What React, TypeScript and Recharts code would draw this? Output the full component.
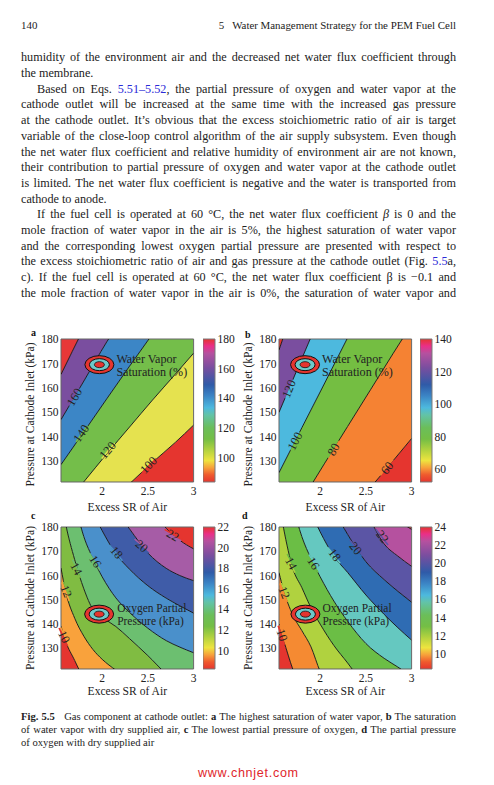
import {
  Area,
  Bar,
  BarChart,
  CartesianGrid,
  ComposedChart,
  Line,
  ReferenceArea,
  ReferenceDot,
  XAxis,
  YAxis,
} from "recharts";

const SERIF = "'Liberation Serif', serif";
const INK = "#222";

// x grid of the two saturation plots
const xsSat = [1.55, 1.8, 2.05, 2.3, 2.55, 2.8, 3];
// x grid of the two oxygen plots
const xsOxy = [1.55, 1.6, 1.7, 1.8, 1.9, 2, 2.15, 2.3, 2.5, 2.7, 2.85, 3];

// contour lines, pressure (kPa) read at each x; values outside the frame get clipped
const a100 = [95, 103.5, 112.2, 120.8, 129.5, 137.7, 144.8];
const a120 = [110.5, 121.6, 133, 144, 155, 165.6, 174.2];
const a140 = [128.6, 142, 155.5, 168.9, 182, 195, 205];
const a160 = [147, 162.8, 178.8, 193, 207, 220, 230];
const a180 = [165.5, 184.5, 203, 220, 236, 250, 262];

const b60 = [74, 85, 96.5, 108, 119.2, 130.3, 139.3];
const b80 = [99, 114, 129.2, 144.2, 159.2, 174.2, 186];
const b100 = [125.3, 143.7, 162, 180.5, 199, 217, 232];
const b120 = [150, 172, 194, 216, 238, 260, 277];
const b140 = [175.5, 203, 231, 259, 287, 315, 337];

const c10 = [139.1, 133, 125, 117, 109, 102, 95, 90, 85, 80, 78, 75];
const c12 = [163.1, 153.5, 142.4, 135, 129.5, 125.5, 121, 117, 112, 108, 105, 102];
const c14 = [192, 181.5, 166.5, 154.5, 146, 142.8, 139, 134, 127, 119.5, 115, 110];
const c16 = [215, 205, 190, 176, 167, 159.5, 150.8, 144.8, 138.3, 133.2, 130.5, 128.2];
const c18 = [225, 218, 205, 195, 186, 178.5, 169, 162.6, 155.8, 150.7, 147.5, 144.5];
const c20 = [240, 235, 225, 215, 205, 197, 187, 179.2, 169.3, 163, 160, 157.9];
const c22 = [260, 255, 245, 235, 225, 218, 208, 199, 190, 179.5, 174.5, 171];

const d10 = [140, 133.5, 121.5, 112, 104, 98, 92, 87, 82, 77, 73, 70];
const d12 = [161.2, 154, 143.8, 137.3, 130.6, 120.5, 112, 105, 98, 92, 88, 85];
const d14 = [190, 179.5, 163, 155, 146.7, 140, 131.2, 124, 114, 105, 99, 93];
const d16 = [212, 203, 189, 176, 167, 159.5, 149.5, 141.2, 132, 125.9, 122.3, 118.5];
const d18 = [225, 218, 205, 195, 186, 178, 168, 161.3, 152, 144, 138.5, 133.4];
const d20 = [245, 240, 230, 218, 207, 198, 187, 177, 165.7, 158.3, 153.5, 149];
const d22 = [270, 265, 255, 245, 235, 225, 215, 205, 187, 173, 168, 163.8];
const d24 = [290, 285, 275, 265, 255, 245, 235, 225, 212, 195, 184, 179];

const bandsA = ["#E5352F", "#E5E24F", "#74BE4A", "#3C86C6", "#7A4E9F", "#E73838"];
const bandsB = ["#E5352F", "#F58233", "#74BE42", "#4DB9DE", "#7A4E9F", "#E5352F"];
const bandsC = ["#E5352F", "#F9A23C", "#80BC42", "#6CBF70", "#4A90CB", "#3F5CA8", "#A65CA6", "#E5352F"];
const bandsD = ["#E5352F", "#F58A32", "#B0D23F", "#6BBE45", "#65C8C0", "#2F6CB3", "#5B55A5", "#B5519F", "#E5352F"];

// label positions along the contours: [SR, kPa, text, angle]
const labelsA: [number, number, string, number][] = [
  [2.507, 128.4, "100", -45],
  [2.06, 134.5, "120", -50],
  [1.77, 141.4, "140", -55],
  [1.697, 156.2, "160", -60],
];
const labelsB: [number, number, string, number][] = [
  [2.733, 127.2, "60", -52],
  [2.147, 134.8, "80", -60],
  [1.725, 138.2, "100", -62],
  [1.659, 159.6, "120", -68],
];
const labelsC: [number, number, string, number][] = [
  [1.583, 134.8, "10", 65],
  [1.608, 153.5, "12", 68],
  [1.718, 162.8, "14", 62],
  [1.927, 165.8, "16", 58],
  [2.158, 169.5, "18", 50],
  [2.432, 172.1, "20", 40],
  [2.773, 176.6, "22", 30],
];
const labelsD: [number, number, string, number][] = [
  [1.583, 135.5, "10", 72],
  [1.608, 153, "12", 68],
  [1.682, 165, "14", 62],
  [1.927, 165, "16", 58],
  [2.158, 168.5, "18", 52],
  [2.388, 171.2, "20", 50],
  [2.682, 176, "22", 52],
];

const yTicks = [130, 140, 150, 160, 170, 180];
const xTicks = [2, 2.5, 3];
const hairlines = [1.6, 1.7, 1.8, 1.9, 2.05, 2.15, 2.3, 2.4, 2.55, 2.65, 2.75, 2.85, 2.95];

const cbTicksA = [100, 120, 140, 160, 180];
const cbTicksB = [60, 80, 100, 120, 140];
const cbTicksC = [10, 12, 14, 16, 18, 20, 22];
const cbTicksD = [10, 12, 14, 16, 18, 20, 22, 24];

const colorStops: [number, string][] = [
  [0, "#E5352F"],
  [0.05, "#EF5A2E"],
  [0.1, "#F7A13A"],
  [0.15, "#EEE43F"],
  [0.22, "#B5D33F"],
  [0.3, "#74BE45"],
  [0.38, "#6BBE5A"],
  [0.47, "#62C3A8"],
  [0.52, "#4DB9DE"],
  [0.6, "#3C86C6"],
  [0.68, "#2F5BA8"],
  [0.8, "#7A4E9F"],
  [0.9, "#B5519F"],
  [0.95, "#EA2F88"],
  [1, "#E5352F"],
];

function buildTable(xs: number[], contours: number[][]) {
  return xs.map((x, i) => {
    const row: Record<string, any> = { x };
    contours.forEach((c, k) => {
      row[`c${k}`] = c[i];
    });
    for (let k = 0; k <= contours.length; k++) {
      const lo = k === 0 ? 40 : contours[k - 1][i];
      const hi = k === contours.length ? 400 : contours[k][i];
      row[`b${k}`] = [lo, hi];
    }
    return row;
  });
}

function RingNote({ cx, cy, lines, noteDx, noteSize }: any) {
  return (
    <g>
      <ellipse cx={cx} cy={cy} rx={14.5} ry={9} fill="#E5352F" stroke="#111" strokeWidth={1} />
      <ellipse cx={cx} cy={cy} rx={10} ry={6} fill="#6CC9C9" stroke="#111" strokeWidth={1} />
      <ellipse cx={cx} cy={cy} rx={5} ry={3} fill="#E5352F" stroke="#111" strokeWidth={0.8} />
      <text x={cx + noteDx} y={cy - 2} fontFamily={SERIF} fontSize={noteSize} fill={INK}>
        {lines[0]}
      </text>
      <text x={cx + noteDx} y={cy + 11} fontFamily={SERIF} fontSize={noteSize} fill={INK}>
        {lines[1]}
      </text>
    </g>
  );
}

function ContourLabel({ cx, cy, text, angle, below, above }: any) {
  return (
    <g transform={`translate(${cx},${cy}) rotate(${angle})`}>
      <rect x={-10} y={-1.6} width={20} height={1.6} fill={above} />
      <rect x={-10} y={0} width={20} height={1.6} fill={below} />
      <text textAnchor="middle" dominantBaseline="central" fontFamily={SERIF} fontSize={12.2} fill={INK}>
        {text}
      </text>
    </g>
  );
}

const PLOT_W = 132.6;

function ContourPanel({ left, top, height, xs, contours, bands, labels, ring, note, noteDx, noteSize, titleDy, xLabelGap }: any) {
  const table = buildTable(xs, contours);
  return (
    <div style={{ position: "absolute", left: left - 40, top: top - 8 }}>
      <ComposedChart
        width={40 + PLOT_W + 6}
        height={8 + height + 38}
        data={table}
        margin={{ top: 8, right: 6, left: 0, bottom: 6 }}
      >
        <XAxis
          dataKey="x"
          type="number"
          domain={[1.55, 3]}
          ticks={xTicks}
          allowDataOverflow
          height={32}
          tickLine={false}
          tickSize={0}
          axisLine={false}
          tickMargin={5}
          tick={{ fontFamily: SERIF, fontSize: 11.5, fill: INK }}
          label={{
            value: "Excess SR of Air",
            position: "insideBottom",
            offset: xLabelGap,
            style: { fontFamily: SERIF, fontSize: 11.6, fill: INK },
          }}
        />
        <YAxis
          type="number"
          domain={[121.5, 180]}
          ticks={yTicks}
          allowDataOverflow
          width={40}
          tickLine={false}
          tickSize={0}
          axisLine={false}
          tickMargin={2.5}
          tick={{ fontFamily: SERIF, fontSize: 11.5, fill: INK }}
          label={{
            value: "Pressure at Cathode Inlet (kPa)",
            angle: -90,
            position: "insideLeft",
            offset: 9,
            dy: titleDy,
            textAnchor: "middle",
            style: { fontFamily: SERIF, fontSize: 11.6, fill: INK, textAnchor: "middle" },
          }}
        />
        {bands.map((color: string, k: number) => (
          <Area
            key={k}
            dataKey={`b${k}`}
            type="monotone"
            fill={color}
            fillOpacity={1}
            stroke="none"
            dot={false}
            activeDot={false}
            isAnimationActive={false}
          />
        ))}
        <CartesianGrid
          horizontal={false}
          verticalValues={hairlines}
          stroke="#fff"
          strokeOpacity={0.2}
          strokeWidth={0.8}
        />
        {contours.map((_: number[], k: number) => (
          <Line
            key={k}
            dataKey={`c${k}`}
            type="monotone"
            stroke="#111"
            strokeWidth={0.9}
            dot={false}
            activeDot={false}
            isAnimationActive={false}
          />
        ))}
        {labels.map((l: [number, number, string, number], k: number) => (
          <ReferenceDot
            key={k}
            x={l[0]}
            y={l[1]}
            r={0}
            shape={(p: any) => (
              <ContourLabel cx={p.cx} cy={p.cy} text={l[2]} angle={l[3]} below={bands[k]} above={bands[k + 1]} />
            )}
          />
        ))}
        <ReferenceDot
          x={ring[0]}
          y={ring[1]}
          r={0}
          shape={(p: any) => <RingNote cx={p.cx} cy={p.cy} lines={note} noteDx={noteDx} noteSize={noteSize} />}
        />
        <ReferenceArea x1={1.55} x2={3} y1={121.5} y2={180} fill="none" stroke="#666" strokeWidth={1} />
      </ComposedChart>
    </div>
  );
}

function ColorBar({ id, left, top, height, domain, ticks }: any) {
  return (
    <div style={{ position: "absolute", left, top: top - 8 }}>
      <BarChart
        width={12.4 + 26}
        height={height + 16}
        data={[{ name: id, range: domain }]}
        margin={{ top: 8, right: 0, left: 0, bottom: 8 }}
        barCategoryGap={0}
      >
        <defs>
          <linearGradient id={id} x1="0" y1="1" x2="0" y2="0">
            {colorStops.map((s, i) => (
              <stop key={i} offset={s[0]} stopColor={s[1]} />
            ))}
          </linearGradient>
        </defs>
        <XAxis dataKey="name" hide />
        <YAxis
          orientation="right"
          type="number"
          domain={domain}
          ticks={ticks}
          interval={0}
          width={26}
          tickLine={false}
          tickSize={0}
          axisLine={false}
          tickMargin={2}
          tick={{ fontFamily: SERIF, fontSize: 11.5, fill: INK, textAnchor: "start" }}
        />
        <Bar dataKey="range" fill={`url(#${id})`} stroke="#777" strokeWidth={1} isAnimationActive={false} />
      </BarChart>
    </div>
  );
}

const BLUE = "#2B2BD8";

const bodyLines: { y: number; indent?: boolean; end?: boolean; text: any }[] = [
  { y: 57, text: "humidity of the environment air and the decreased net water flux coefficient through" },
  { y: 73, end: true, text: "the membrane." },
  {
    y: 89,
    indent: true,
    text: (
      <>
        Based on Eqs. <span style={{ color: BLUE }}>5.51–5.52</span>, the partial pressure of oxygen and water vapor at the
      </>
    ),
  },
  { y: 104, text: "cathode outlet will be increased at the same time with the increased gas pressure" },
  { y: 120, text: "at the cathode outlet. It’s obvious that the excess stoichiometric ratio of air is target" },
  { y: 136, text: "variable of the close-loop control algorithm of the air supply subsystem. Even though" },
  { y: 152, text: "the net water flux coefficient and relative humidity of environment air are not known," },
  { y: 167, text: "their contribution to partial pressure of oxygen and water vapor at the cathode outlet" },
  { y: 183, text: "is limited. The net water flux coefficient is negative and the water is transported from" },
  { y: 199, end: true, text: "cathode to anode." },
  {
    y: 214,
    indent: true,
    text: (
      <>
        If the fuel cell is operated at 60 °C, the net water flux coefficient <i>β</i> is 0 and the
      </>
    ),
  },
  { y: 230, text: "mole fraction of water vapor in the air is 5%, the highest saturation of water vapor" },
  { y: 246, text: "and the corresponding lowest oxygen partial pressure are presented with respect to" },
  {
    y: 261,
    text: (
      <>
        the excess stoichiometric ratio of air and gas pressure at the cathode outlet (Fig. <span style={{ color: BLUE }}>5.5</span>a,
      </>
    ),
  },
  { y: 277, text: "c). If the fuel cell is operated at 60 °C, the net water flux coefficient β is −0.1 and" },
  { y: 293, text: "the mole fraction of water vapor in the air is 0%, the saturation of water vapor and" },
];

const captionLines: { y: number; end?: boolean; text: any }[] = [
  {
    y: 717,
    text: (
      <>
        <b>Fig. 5.5</b>&nbsp;&nbsp; Gas component at cathode outlet: <b>a</b> The highest saturation of water vapor, <b>b</b> The saturation
      </>
    ),
  },
  {
    y: 730,
    text: (
      <>
        of water vapor with dry supplied air, <b>c</b> The lowest partial pressure of oxygen, <b>d</b> The partial pressure
      </>
    ),
  },
  { y: 743, end: true, text: "of oxygen with dry supplied air" },
];

function PageLine({ x, w, y, size, end, children }: any) {
  return (
    <div
      style={{
        position: "absolute",
        left: x,
        width: w,
        top: y - 8,
        height: 16,
        lineHeight: "16px",
        fontFamily: SERIF,
        fontSize: size,
        color: INK,
        whiteSpace: "nowrap",
        textAlign: "justify",
        textAlignLast: end ? "left" : "justify",
      }}
    >
      {children}
    </div>
  );
}

function Letter({ x, y, children }: any) {
  return (
    <div style={{ position: "absolute", left: x, top: y - 6, lineHeight: "12px", fontFamily: SERIF, fontSize: 10, fontWeight: 700, color: "#111" }}>
      {children}
    </div>
  );
}

export default function App() {
  return (
    <div style={{ position: "absolute", left: 0, top: 0, width: 494, height: 785, overflow: "hidden", background: "#fff" }}>
      <PageLine x={21} w={100} y={25} size={10.9} end>
        140
      </PageLine>
      <div style={{ position: "absolute", right: 38, top: 17, lineHeight: "16px", fontFamily: SERIF, fontSize: 10.9, color: INK, whiteSpace: "pre" }}>
        {"5   Water Management Strategy for the PEM Fuel Cell"}
      </div>

      {bodyLines.map((l, i) => (
        <PageLine key={i} x={l.indent ? 37 : 21} w={l.indent ? 419 : 435} y={l.y} size={12.2} end={l.end}>
          {l.text}
        </PageLine>
      ))}

      <ContourPanel
        left={60.7}
        top={339}
        height={143}
        xs={xsSat}
        contours={[a100, a120, a140, a160, a180]}
        bands={bandsA}
        labels={labelsA}
        ring={[1.97, 169.5]}
        note={["Water Vapor", "Saturation (%)"]}
        noteDx={17}
        noteSize={12.1}
        titleDy={4}
        xLabelGap={3}
      />
      <ContourPanel
        left={278.7}
        top={339}
        height={143}
        xs={xsSat}
        contours={[b60, b80, b100, b120, b140]}
        bands={bandsB}
        labels={labelsB}
        ring={[1.835, 169.5]}
        note={["Water Vapor", "Saturation (%)"]}
        noteDx={17}
        noteSize={12.1}
        titleDy={4}
        xLabelGap={3}
      />
      <ContourPanel
        left={60.7}
        top={526.5}
        height={142}
        xs={xsOxy}
        contours={[c10, c12, c14, c16, c18, c20, c22]}
        bands={bandsC}
        labels={labelsC}
        ring={[1.967, 144.1]}
        note={["Oxygen Partial", "Pressure (kPa)"]}
        noteDx={18}
        noteSize={11.5}
        titleDy={0}
        xLabelGap={6}
      />
      <ContourPanel
        left={278.7}
        top={526.5}
        height={142}
        xs={xsOxy}
        contours={[d10, d12, d14, d16, d18, d20, d22, d24]}
        bands={bandsD}
        labels={labelsD}
        ring={[1.839, 144.1]}
        note={["Oxygen Partial", "Pressure (kPa)"]}
        noteDx={17}
        noteSize={11.5}
        titleDy={0}
        xLabelGap={6}
      />

      <ColorBar id="cbA" left={202.7} top={339} height={143} domain={[83.7, 180]} ticks={cbTicksA} />
      <ColorBar id="cbB" left={420.3} top={339} height={143} domain={[52, 140]} ticks={cbTicksB} />
      <ColorBar id="cbC" left={202.7} top={526.5} height={142} domain={[8.2, 22]} ticks={cbTicksC} />
      <ColorBar id="cbD" left={420.3} top={526.5} height={142} domain={[8.3, 24]} ticks={cbTicksD} />

      <Letter x={31} y={333}>a</Letter>
      <Letter x={245} y={335}>b</Letter>
      <Letter x={31} y={516}>c</Letter>
      <Letter x={242} y={516}>d</Letter>

      {captionLines.map((l, i) => (
        <PageLine key={i} x={21} w={435} y={l.y} size={10.6} end={l.end}>
          {l.text}
        </PageLine>
      ))}

      <div
        style={{
          position: "absolute",
          left: 198,
          top: 764,
          lineHeight: "18px",
          fontFamily: "'Liberation Sans', sans-serif",
          fontSize: 12.6,
          letterSpacing: 0.7,
          color: "#E0262B",
        }}
      >
        www.chnjet.com
      </div>
    </div>
  );
}
